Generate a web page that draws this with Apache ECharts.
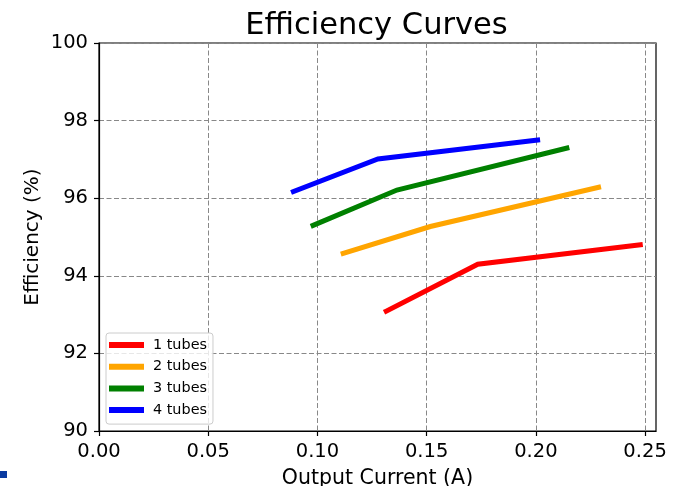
<!DOCTYPE html>
<html>
<head>
<meta charset="utf-8">
<script src="https://cdn.jsdelivr.net/npm/echarts@6/dist/echarts.min.js"></script>
<style>
html,body{margin:0;padding:0;background:#fff;}
#c{width:679px;height:486px;}
</style>
</head>
<body>
<div id="c"></div>
<script>
// ---- data ----
const seriesNames = ['1 tubes', '2 tubes', '3 tubes', '4 tubes'];
const current1 = [0.1315, 0.1734, 0.2478];
const eff1     = [93.09, 94.30, 94.80];
const current2 = [0.1118, 0.1517, 0.2287];
const eff2     = [94.58, 95.27, 96.28];
const current3 = [0.0980, 0.1364, 0.2142];
const eff3     = [95.30, 96.21, 97.29];
const current4 = [0.0890, 0.1277, 0.2008];
const eff4     = [96.17, 97.01, 97.50];
const xTicks = [0, 0.05, 0.10, 0.15, 0.20, 0.25];
const yTicks = [90, 92, 94, 96, 98, 100];

const colors = ['#ff0000', '#ffa500', '#008000', '#0000ff'];
const xs = [current1, current2, current3, current4];
const ys = [eff1, eff2, eff3, eff4];

const FONT = 'DejaVu Sans';
const chart = echarts.init(document.getElementById('c'), null, {renderer: 'canvas'});

const series = seriesNames.map((name, i) => ({
  name: name,
  type: 'line',
  data: xs[i].map((x, j) => [x, ys[i][j]]),
  showSymbol: false,
  symbol: 'none',
  lineStyle: {color: colors[i], width: 5, cap: 'square', join: 'miter'},
  itemStyle: {color: colors[i]},
  animation: false
}));

chart.setOption({
  animation: false,
  backgroundColor: '#fff',
  title: {
    text: 'Efficiency Curves',
    left: 371.5,
    textAlign: 'center',
    top: 6,
    textStyle: {fontFamily: FONT, fontSize: 30.5, fontWeight: 'normal', color: '#000'}
  },
  grid: {
    left: 99, right: 23, top: 43, bottom: 55,
    outerBoundsMode: 'none',
    containLabel: false,
    show: true, borderColor: '#000', borderWidth: 1.2, backgroundColor: 'transparent'
  },
  legend: {
    orient: 'vertical',
    left: 106, top: 333,
    data: seriesNames,
    icon: 'rect',
    itemWidth: 35, itemHeight: 6,
    itemGap: 5.7,
    padding: [4, 6, 6, 3],
    backgroundColor: 'rgba(255,255,255,0.8)',
    borderColor: '#cccccc', borderWidth: 1, borderRadius: 3,
    textStyle: {fontFamily: FONT, fontSize: 14.4, color: '#000', lineHeight: 16, padding: [0, 0, 0, 4]}
  },
  xAxis: {
    type: 'value',
    min: 0, max: 0.255, interval: 0.05,
    name: 'Output Current (A)',
    nameLocation: 'middle',
    nameMoveOverlap: false,
    nameGap: 37,
    nameTextStyle: {fontFamily: FONT, fontSize: 20.5, color: '#000'},
    axisLine: {show: true, onZero: false, lineStyle: {color: '#000', width: 1.2}},
    axisTick: {show: true, inside: false, length: 5, lineStyle: {color: '#000', width: 1.2}, customValues: xTicks},
    axisLabel: {
      fontFamily: FONT, fontSize: 19.5, color: '#000', margin: 10.5,
      customValues: xTicks,
      formatter: v => (Math.abs(v / 0.05 - Math.round(v / 0.05)) < 1e-6 ? v.toFixed(2) : '')
    },
    splitLine: {show: true, lineStyle: {color: '#888', width: 1, type: [5, 2.5]}}
  },
  yAxis: {
    type: 'value',
    min: 90, max: 100, interval: 2,
    name: 'Efficiency (%)',
    nameLocation: 'middle',
    nameMoveOverlap: false,
    nameGap: 56,
    nameTextStyle: {fontFamily: FONT, fontSize: 20, color: '#000'},
    axisLine: {show: true, onZero: false, lineStyle: {color: '#000', width: 1.2}},
    axisTick: {show: true, inside: false, length: 5, lineStyle: {color: '#000', width: 1.2}, customValues: yTicks},
    axisLabel: {fontFamily: FONT, fontSize: 19.5, color: '#000', margin: 11, customValues: yTicks},
    splitLine: {show: true, lineStyle: {color: '#888', width: 1, type: [5, 2.5]}}
  },
  graphic: [{
    type: 'rect',
    shape: {x: 0, y: 471, width: 7, height: 7},
    style: {fill: '#0a3aa0'},
    silent: true
  }],
  series: series
});
</script>
</body>
</html>
